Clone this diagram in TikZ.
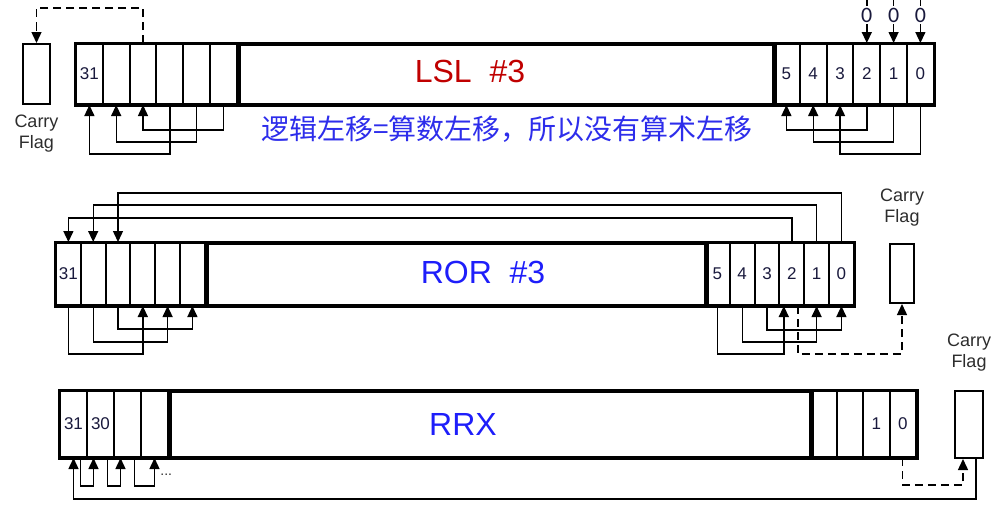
\documentclass[tikz,border=0pt]{standalone}
\usepackage{fontspec}
\setmainfont{Liberation Sans}
\newfontfamily\cjk{Noto Sans CJK SC}
\newfontfamily\zerofont{Carlito}
\usetikzlibrary{arrows.meta,positioning}
\definecolor{lslred}{RGB}{192,0,0}
\definecolor{opblue}{RGB}{30,30,250}
\definecolor{noteblue}{RGB}{45,45,235}
\definecolor{bitnum}{RGB}{25,25,60}
\definecolor{flagtxt}{RGB}{45,45,45}

\begin{document}
\begin{tikzpicture}[x=0.5pt, y=-0.5pt,
  arr/.style={-{Triangle[length=5.5pt,width=5pt]}, line width=0.7pt},
  carry/.style={arr, dash pattern=on 4pt off 2.5pt},
  cell/.style={draw, line width=1pt, inner sep=0pt, anchor=north west,
    text=bitnum, font=\fontsize{8.5}{10}\selectfont},
  body/.style={draw, line width=1.5pt, inner sep=0pt, anchor=north west},
  frame/.style={line width=1.5pt},
  flag/.style={draw, line width=1pt, inner sep=0pt, anchor=north west},
  flaglbl/.style={align=center, text=flagtxt, inner sep=0pt, font=\fontsize{9}{10.5}\selectfont},
  op/.style={font=\fontsize{16}{18}\selectfont},
  zero/.style={fill=white, inner sep=1pt, text=bitnum, font=\zerofont\fontsize{11}{12}\selectfont}]
  \useasboundingbox (0,0) rectangle (1002,514);

  % LSL #3
  \foreach \n/\t [count=\i from 0] in {31/31,30/,29/,28/,27/,26/}
    \node[cell, minimum width=13.4pt, minimum height=30pt] (l\n) at ({75+26.8*\i},43) {\t};
  \node[body, minimum width=268.1pt, minimum height=30pt] (lbody) at (l26.north east) {};
  \foreach \n [count=\i from 0] in {5,4,3,2,1,0}
    \node[cell, minimum width=13.4pt, minimum height=30pt] (l\n) at ({772+26.8*\i},43) {\n};
  \draw[frame] (l31.north west) rectangle (l0.south east);
  \node[flag, minimum width=13.5pt, minimum height=30pt] (lcf) at (22,43) {};
  \node[flaglbl, below=5pt of lcf] (lcflbl) {Carry\\Flag};
  \node[op, text=lslred] (lop) at (470,71) {LSL~~\#3};
  \node[text=noteblue, font=\cjk\fontsize{14}{16}\selectfont] (lnote) at (507,129)
    {逻辑左移=算数左移，所以没有算术左移};
  \foreach \n in {2,1,0}{
    \coordinate (z\n) at (l\n.north |- 0,0);
    \draw[arr] (z\n) -- node[zero, pos=0.35] (zl\n) {0} (l\n.north);
  }
  \draw[arr] (l28.south) -- ++(0,49) -| (l31.south);
  \draw[arr] (l27.south) -- ++(0,37) -| (l30.south);
  \draw[arr] (l26.south) -- ++(0,25) -| (l29.south);
  \draw[arr] (l2.south) -- ++(0,25) -| (l5.south);
  \draw[arr] (l1.south) -- ++(0,37) -| (l4.south);
  \draw[arr] (l0.south) -- ++(0,49) -| (l3.south);
  \draw[carry] (l29.north) -- ++(0,-35) -| (lcf.north);

  % ROR #3
  \foreach \n/\t [count=\i from 0] in {31/31,30/,29/,28/,27/,26/}
    \node[cell, minimum width=12.4pt, minimum height=31pt] (r\n) at ({55+24.8*\i},242) {\t};
  \node[body, minimum width=250.1pt, minimum height=31pt] (rbody) at (r26.north east) {};
  \foreach \n [count=\i from 0] in {5,4,3,2,1,0}
    \node[cell, minimum width=12.4pt, minimum height=31pt] (r\n) at ({704+24.8*\i},242) {\n};
  \draw[frame] (r31.north west) rectangle (r0.south east);
  \node[flag, minimum width=12pt, minimum height=29.5pt] (rcf) at (889,243) {};
  \node[flaglbl, above=8pt of rcf] (rcflbl) {Carry\\Flag};
  \node[op, text=opblue] (rop) at (483,272) {ROR~~\#3};
  \draw[arr] (r2.north) -- ++(0,-24) -| (r31.north);
  \draw[arr] (r1.north) -- ++(0,-37) -| (r30.north);
  \draw[arr] (r0.north) -- ++(0,-49) -| (r29.north);
  \draw[arr] (r31.south) -- ++(0,48) -| (r28.south);
  \draw[arr] (r30.south) -- ++(0,36) -| (r27.south);
  \draw[arr] (r29.south) -- ++(0,23) -| (r26.south);
  \draw[arr] (r5.south) -- ++(0,48) -| ([xshift=-4pt]r2.south);
  \draw[arr] (r4.south) -- ++(0,36) -| (r1.south);
  \draw[arr] (r3.south) -- ++(0,24) -| (r0.south);
  \draw[carry] ([xshift=3pt]r2.south) -- ++(0,48) -| (rcf.south);

  % RRX
  \foreach \n/\t [count=\i from 0] in {31/31,30/30,29/,28/}
    \node[cell, minimum width=13.5pt, minimum height=33pt] (x\n) at ({59+27*\i},390) {\t};
  \node[body, minimum width=321pt, minimum height=33pt] (xbody) at (x28.north east) {};
  \foreach \n/\t [count=\i from 0] in {3/,2/,1/1,0/0}
    \node[cell, minimum width=13.25pt, minimum height=33pt] (x\n) at ({809+26.5*\i},390) {\t};
  \draw[frame] (x31.north west) rectangle (x0.south east);
  \node[flag, minimum width=14pt, minimum height=33.5pt] (xcf) at (954,390) {};
  \node[flaglbl, above=9pt of xcf] (xcflbl) {Carry\\Flag};
  \node[op, text=opblue] (xop) at (463,424) {RRX};
  \draw[arr] ([xshift=3.5pt]x31.south) -- ++(0,28) -| ([xshift=-3.5pt]x30.south);
  \draw[arr] ([xshift=3.5pt]x30.south) -- ++(0,28) -| ([xshift=-3.5pt]x29.south);
  \draw[arr] ([xshift=3.5pt]x29.south) -- ++(0,28) -| (x28.south);
  \node[text=flagtxt, anchor=west, inner sep=0pt, font=\fontsize{7}{8}\selectfont] (dots) at (160,475) {...};
  \draw[arr] ([xshift=3.5pt]xcf.south) -- ++(0,40) -| (x31.south);
  \draw[carry] (x0.south) -- ++(0,27) -| ([xshift=-3pt]xcf.south);
\end{tikzpicture}
\end{document}
